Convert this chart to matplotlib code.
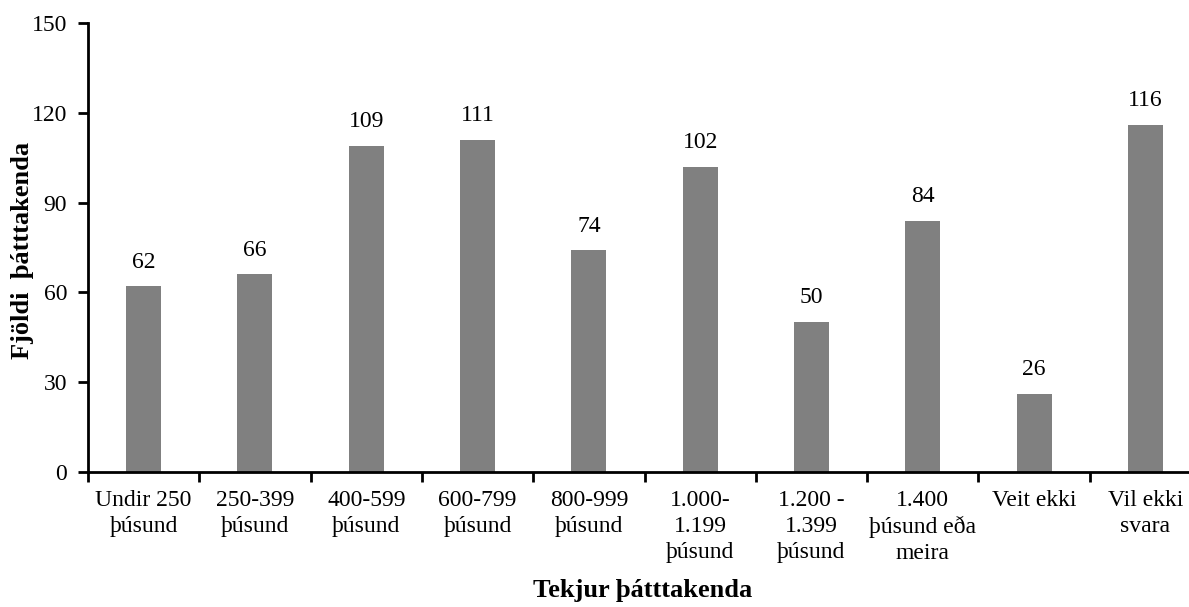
import matplotlib.pyplot as plt

# Tekjur og fjöldi þátttakenda
categories = ["Undir 250\nþúsund", "250-399\nþúsund", "400-599\nþúsund",
              "600-799\nþúsund", "800-999\nþúsund", "1.000-\n1.199\nþúsund",
              "1.200 -\n1.399\nþúsund", "1.400\nþúsund eða\nmeira",
              "Veit ekki", "Vil ekki\nsvara"]
counts = [62, 66, 109, 111, 74, 102, 50, 84, 26, 116]
y_ticks = [0, 30, 60, 90, 120, 150]

plt.rcParams["font.family"] = ["Liberation Serif", "DejaVu Serif"]

W, H = 1189, 607
fig = plt.figure(figsize=(W / 100, H / 100), dpi=100)
# axes run past the right edge of the figure
left, right, bottom, top = 88, 1201, 472, 23
ax = fig.add_axes([left / W, 1 - bottom / H, (right - left) / W, (bottom - top) / H])

x = range(len(categories))
ax.bar(x, counts, width=0.315, color="#808080")
for xi, v in zip(x, counts):
    ax.annotate(str(v), (xi, v), xytext=(0, 10), textcoords="offset points",
                ha="center", va="bottom", fontsize=17)

ax.set_xlim(-0.5, len(categories) - 0.5)
ax.set_ylim(0, 150)
ax.set_yticks(y_ticks)
ax.tick_params(axis="y", labelsize=17, width=2, length=7, direction="out", pad=8)

ax.set_xticks([i + 0.5 for i in range(-1, len(categories))], minor=False)
ax.set_xticklabels([])
ax.set_xticks(list(x), minor=True)
ax.set_xticklabels(categories, minor=True, fontsize=17, linespacing=1.3)
ax.tick_params(axis="x", which="major", width=2, length=7, direction="out")
ax.tick_params(axis="x", which="minor", length=0, pad=13)

for s in ["top", "right"]:
    ax.spines[s].set_visible(False)
for s in ["left", "bottom"]:
    ax.spines[s].set_linewidth(2)

fig.text(23 / W, 1 - 250 / H, "Fjöldi  þátttakenda", rotation=90, ha="center",
         va="center", fontsize=19, fontweight="bold")
fig.text(643 / W, 1 - 591 / H, "Tekjur þátttakenda", ha="center", va="center",
         fontsize=19, fontweight="bold")

fig.savefig("out.png", dpi=100)
